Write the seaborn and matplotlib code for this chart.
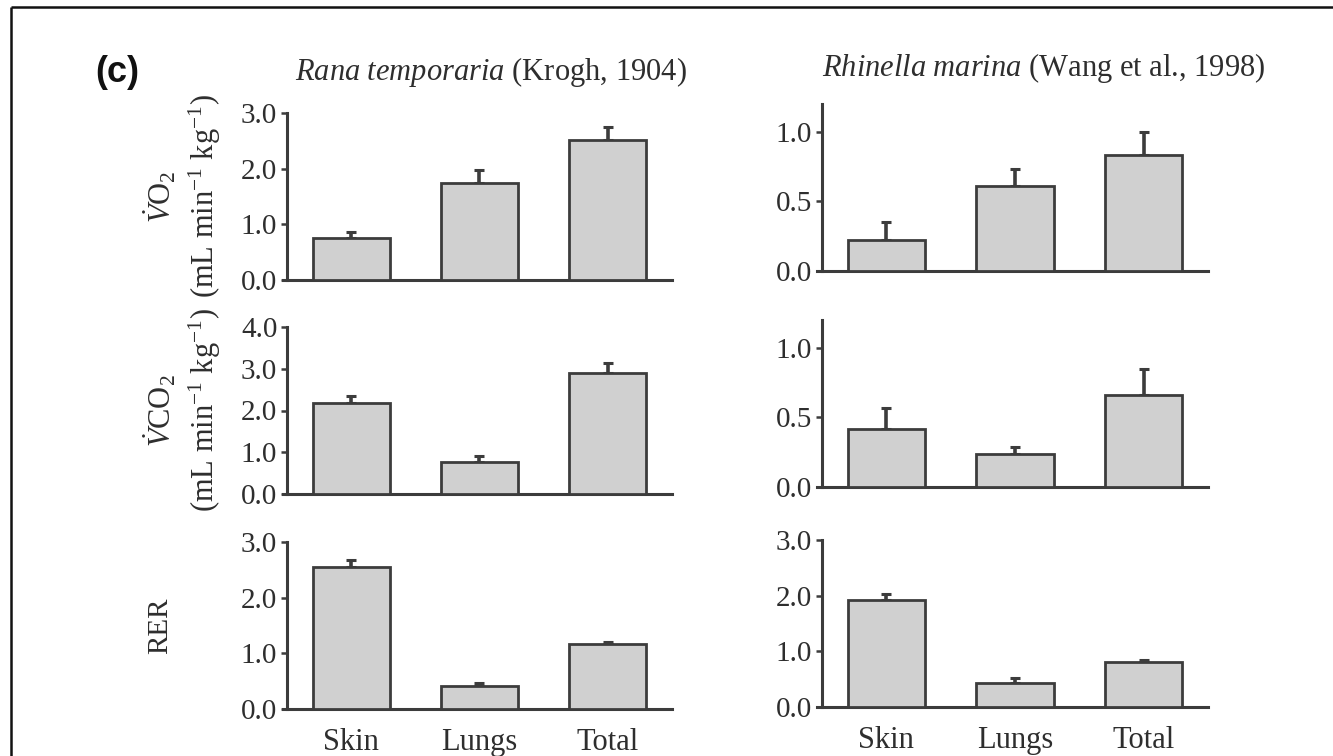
import matplotlib
matplotlib.use("Agg")
import matplotlib.pyplot as plt
import seaborn as sns
import pandas as pd
import numpy as np
from matplotlib import transforms
from matplotlib.lines import Line2D

# ---------------- data ----------------
categories = ["Skin", "Lungs", "Total"]

rana_vo2 = [0.76, 1.74, 2.52]
rana_vo2_err = [0.10, 0.23, 0.23]
rana_vco2 = [2.17, 0.76, 2.90]
rana_vco2_err = [0.18, 0.14, 0.24]
rana_rer = [2.55, 0.41, 1.17]
rana_rer_err = [0.13, 0.05, 0.03]

rhin_vo2 = [0.22, 0.61, 0.83]
rhin_vo2_err = [0.13, 0.12, 0.17]
rhin_vco2 = [0.42, 0.24, 0.66]
rhin_vco2_err = [0.15, 0.05, 0.19]
rhin_rer = [1.93, 0.43, 0.80]
rhin_rer_err = [0.10, 0.09, 0.05]

left_title_ref = "(Krogh, 1904)"
right_title_ref = "(Wang et al., 1998)"
panel_label = "(c)"

left_yticks = [[0.0, 1.0, 2.0, 3.0], [0.0, 1.0, 2.0, 3.0, 4.0], [0.0, 1.0, 2.0, 3.0]]
left_ylims = [3.0, 4.0, 3.0]
right_yticks = [[0.0, 0.5, 1.0], [0.0, 0.5, 1.0], [0.0, 1.0, 2.0, 3.0]]
right_ylims = [1.2, 1.2, 3.0]

# ---------------- style ----------------
sns.set_theme(style="white")
plt.rcParams["font.family"] = ["Liberation Serif", "DejaVu Serif"]
plt.rcParams["mathtext.fontset"] = "custom"
plt.rcParams["mathtext.rm"] = "Liberation Serif"
plt.rcParams["mathtext.it"] = "Liberation Serif:italic"
plt.rcParams["mathtext.bf"] = "Liberation Serif:bold"

W, H = 1333, 756
fig = plt.figure(figsize=(W / 100, H / 100), dpi=100)
fig.patch.set_facecolor("white")

DARK = "#3c3c3c"
FILL = "#d0d0d0"
TICKC = "#2e2e2e"
FS = 21


def px_rect(x0, y0, x1, y1):
    return [x0 / W, 1 - y1 / H, (x1 - x0) / W, (y1 - y0) / H]


left_rects = [px_rect(287, 113, 672, 280), px_rect(287, 327, 672, 494), px_rect(287, 542, 672, 709)]
right_rects = [px_rect(822, 104, 1208, 271), px_rect(822, 320, 1208, 487), px_rect(822, 540, 1208, 707)]

left_data = [(rana_vo2, rana_vo2_err), (rana_vco2, rana_vco2_err), (rana_rer, rana_rer_err)]
right_data = [(rhin_vo2, rhin_vo2_err), (rhin_vco2, rhin_vco2_err), (rhin_rer, rhin_rer_err)]


def draw_panel(rect, vals, errs, ylim, yticks, show_x):
    ax = fig.add_axes(rect)
    df = pd.DataFrame({"part": categories, "value": vals})
    sns.barplot(data=df, x="part", y="value", order=categories, ax=ax,
                color=FILL, edgecolor=DARK, linewidth=2.0, width=0.6,
                errorbar=None, saturation=1, zorder=3)
    ax.errorbar(x=np.arange(len(categories)), y=vals,
                yerr=[np.zeros(len(errs)), errs], fmt="none",
                ecolor=DARK, elinewidth=2.6, capsize=3.5, capthick=2.2, zorder=2)
    ax.set_xlim(-0.5, 2.5)
    ax.set_ylim(0, ylim)
    ax.set_yticks(yticks)
    ax.set_yticklabels([f"{t:.1f}" for t in yticks])
    ax.set_xlabel("")
    ax.set_ylabel("")
    for s in ["top", "right"]:
        ax.spines[s].set_visible(False)
    for s in ["left", "bottom"]:
        ax.spines[s].set_color(DARK)
        ax.spines[s].set_linewidth(2.2)
    ax.spines["bottom"].set_bounds(-0.535, 2.5)
    ax.tick_params(axis="y", direction="out", length=4, width=1.8, color=DARK,
                   labelsize=FS, labelcolor=TICKC, pad=3, left=True)
    ax.tick_params(axis="x", length=0, labelsize=22, labelcolor=TICKC, pad=14)
    if not show_x:
        ax.set_xticklabels([])
    ax.set_facecolor("white")
    return ax


left_axes = []
for i in range(3):
    vals, errs = left_data[i]
    left_axes.append(draw_panel(left_rects[i], vals, errs, left_ylims[i], left_yticks[i], i == 2))
right_axes = []
for i in range(3):
    vals, errs = right_data[i]
    right_axes.append(draw_panel(right_rects[i], vals, errs, right_ylims[i], right_yticks[i], i == 2))


def ylab(ax, xpx, text, fs):
    tr = transforms.blended_transform_factory(fig.transFigure, ax.transAxes)
    ax.text(xpx / W, 0.5, text, transform=tr, rotation=90, ha="center", va="center",
            fontsize=fs, color=TICKC)


ylab(left_axes[0], 160, r"$\dot{V}\mathrm{O}_2$", 22)
ylab(left_axes[0], 205, r"(mL min$^{-1}$ kg$^{-1}$)", 22)
ylab(left_axes[1], 160, r"$\dot{V}\mathrm{CO}_2$", 22)
ylab(left_axes[1], 205, r"(mL min$^{-1}$ kg$^{-1}$)", 22)
ylab(left_axes[2], 160, "RER", 21)

# titles
fig.text(491 / W, 1 - 72 / H, r"$\it{Rana\ temporaria}$ " + left_title_ref,
         ha="center", va="center", fontsize=22, color=TICKC)
fig.text(1044 / W, 1 - 68 / H, r"$\it{Rhinella\ marina}$ " + right_title_ref,
         ha="center", va="center", fontsize=22, color=TICKC)

# panel label
fig.text(117 / W, 1 - 73 / H, panel_label, ha="center", va="center",
         fontsize=26, fontweight="bold", family=["Liberation Sans", "DejaVu Sans"], color="#111111")

# outer frame (left and top edges)
fig.add_artist(Line2D([10.5 / W, 10.5 / W], [0, 1 - 7 / H], transform=fig.transFigure,
                      color="#111111", linewidth=1.8, solid_capstyle="butt"))
fig.add_artist(Line2D([10.5 / W, 1.0], [1 - 7 / H, 1 - 7 / H], transform=fig.transFigure,
                      color="#111111", linewidth=1.8, solid_capstyle="butt"))

fig.savefig("out.png", dpi=100, facecolor="white")
